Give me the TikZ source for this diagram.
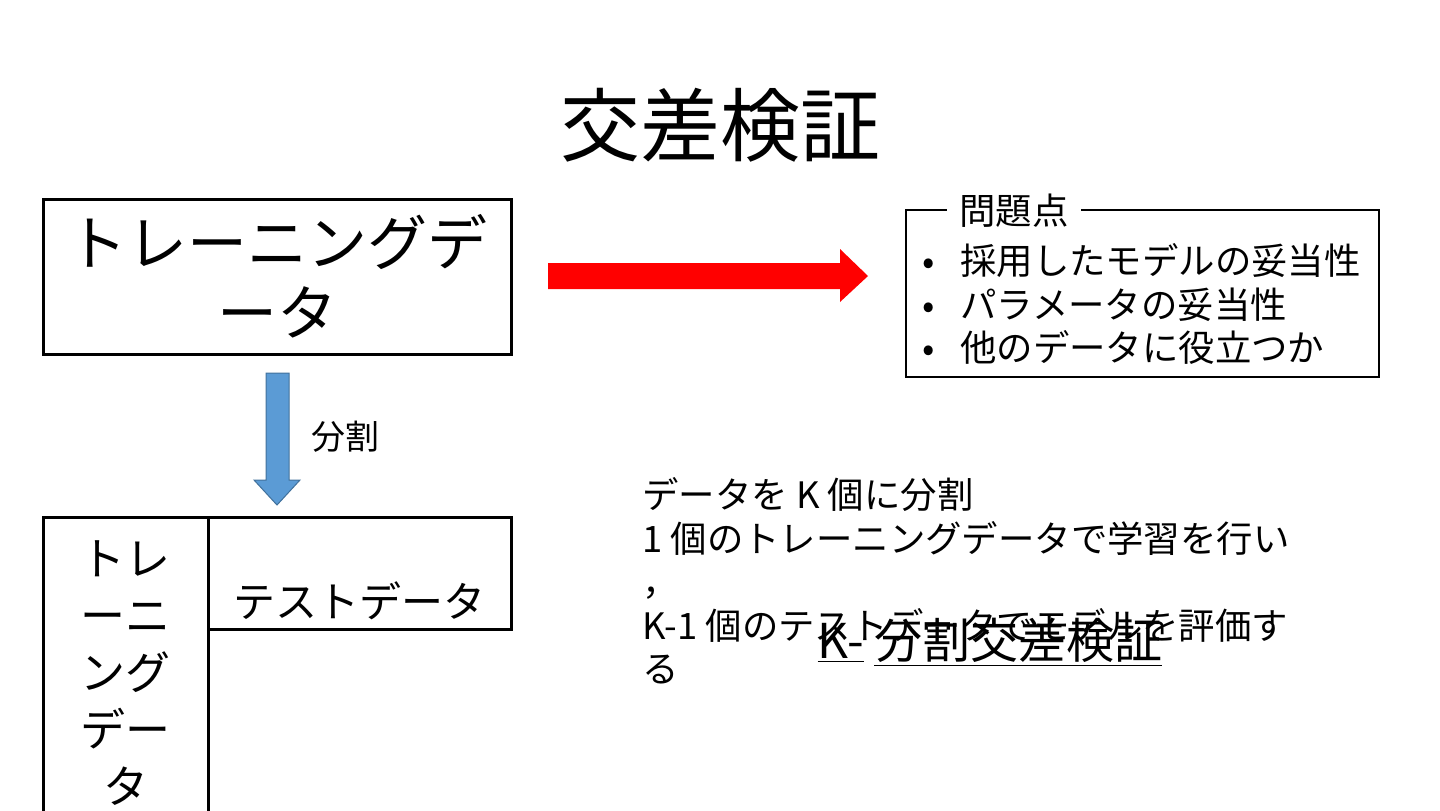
\documentclass[tikz,border=0pt]{standalone}
\usepackage{fontspec}
\setmainfont{Noto Sans CJK JP}
\usetikzlibrary{positioning}
\definecolor{cSplit}{HTML}{5B9BD5}
\definecolor{cSplitLine}{HTML}{41719C}
\definecolor{cIssue}{HTML}{FF0000}
\tikzset{
  framebox/.style={
    draw, line width=1.5pt,
    inner sep=0pt,
    align=center
  },
  issuebox/.style={
    draw, line width=0.75pt,
    inner sep=0pt
  },
  bodytext/.style={
    inner sep=0pt,
    align=left,
    font=\fontsize{18.2}{21.75}\selectfont
  },
  blockarrow/.style={
    line width=0.5pt,
    line join=miter
  }
}

\begin{document}
\begin{tikzpicture}[x=0.5pt, y=-0.5pt]
  \useasboundingbox (0,0) rectangle (1440,810);
  \clip (0,0) rectangle (1440,810);

  % title
  \node[inner sep=0pt, font=\fontsize{40}{48}\selectfont] (title) at (720,125) {交差検証};

  % training data
  \node[framebox, minimum width=234pt, minimum height=77.5pt,
        font=\fontsize{30}{35}\selectfont] (train) at (277,276.5) {トレーニングデ\\ータ};

  % issues
  \node[issuebox, minimum width=236.5pt, minimum height=83.5pt] (issues) at (1142.5,293.5) {};
  \node[fill=white, inner xsep=6pt, inner ysep=0pt,
        font=\fontsize{18.2}{21.75}\selectfont] (issuetitle) at (1014,211) {問題点};
  \node[bodytext, anchor=west] (issuelist) at (922,304) {%
    \makebox[19pt][l]{•}採用したモデルの妥当性\\
    \makebox[19pt][l]{•}パラメータの妥当性\\
    \makebox[19pt][l]{•}他のデータに役立つか};

  \fill[cIssue] (548,263) -- (840,263) -- (840,249) -- (868,276)
    -- (840,302) -- (840,289) -- (548,289) -- cycle;

  % split
  \filldraw[blockarrow, fill=cSplit, draw=cSplitLine] (266,373) -- (289,373) -- (289,480)
    -- (300,480) -- (277,505) -- (254,480) -- (266,480) -- cycle;
  \node[inner sep=0pt, font=\fontsize{17}{20}\selectfont] (splitlbl) at (345,437) {分割};

  \node[framebox, minimum width=82.5pt, minimum height=156.5pt,
        font=\fontsize{22.5}{28.5}\selectfont] (trainpart) at (125.5,673.5) {トレ\\ーニ\\ング\\デー\\タ};
  \node[framebox, minimum width=151.5pt, minimum height=56pt] (testpart) at (359.5,573) {};
  \node[inner sep=0pt, font=\fontsize{21}{25}\selectfont] (testlbl) at (359,601) {テストデータ};

  % k-fold
  \node[bodytext, anchor=west] (kfoldtext) at (642,581) {%
    データを K 個に分割\\
    1 個のトレーニングデータで学習を行い\\
    ，\\
    K-1 個のテストデータでモデルを評価す\\
    る};
  \node[inner sep=0pt, font=\fontsize{24}{28}\selectfont] (kfold) at (990,642)
    {\underline{K-}\ \underline{分割交差検証}};
\end{tikzpicture}
\end{document}
